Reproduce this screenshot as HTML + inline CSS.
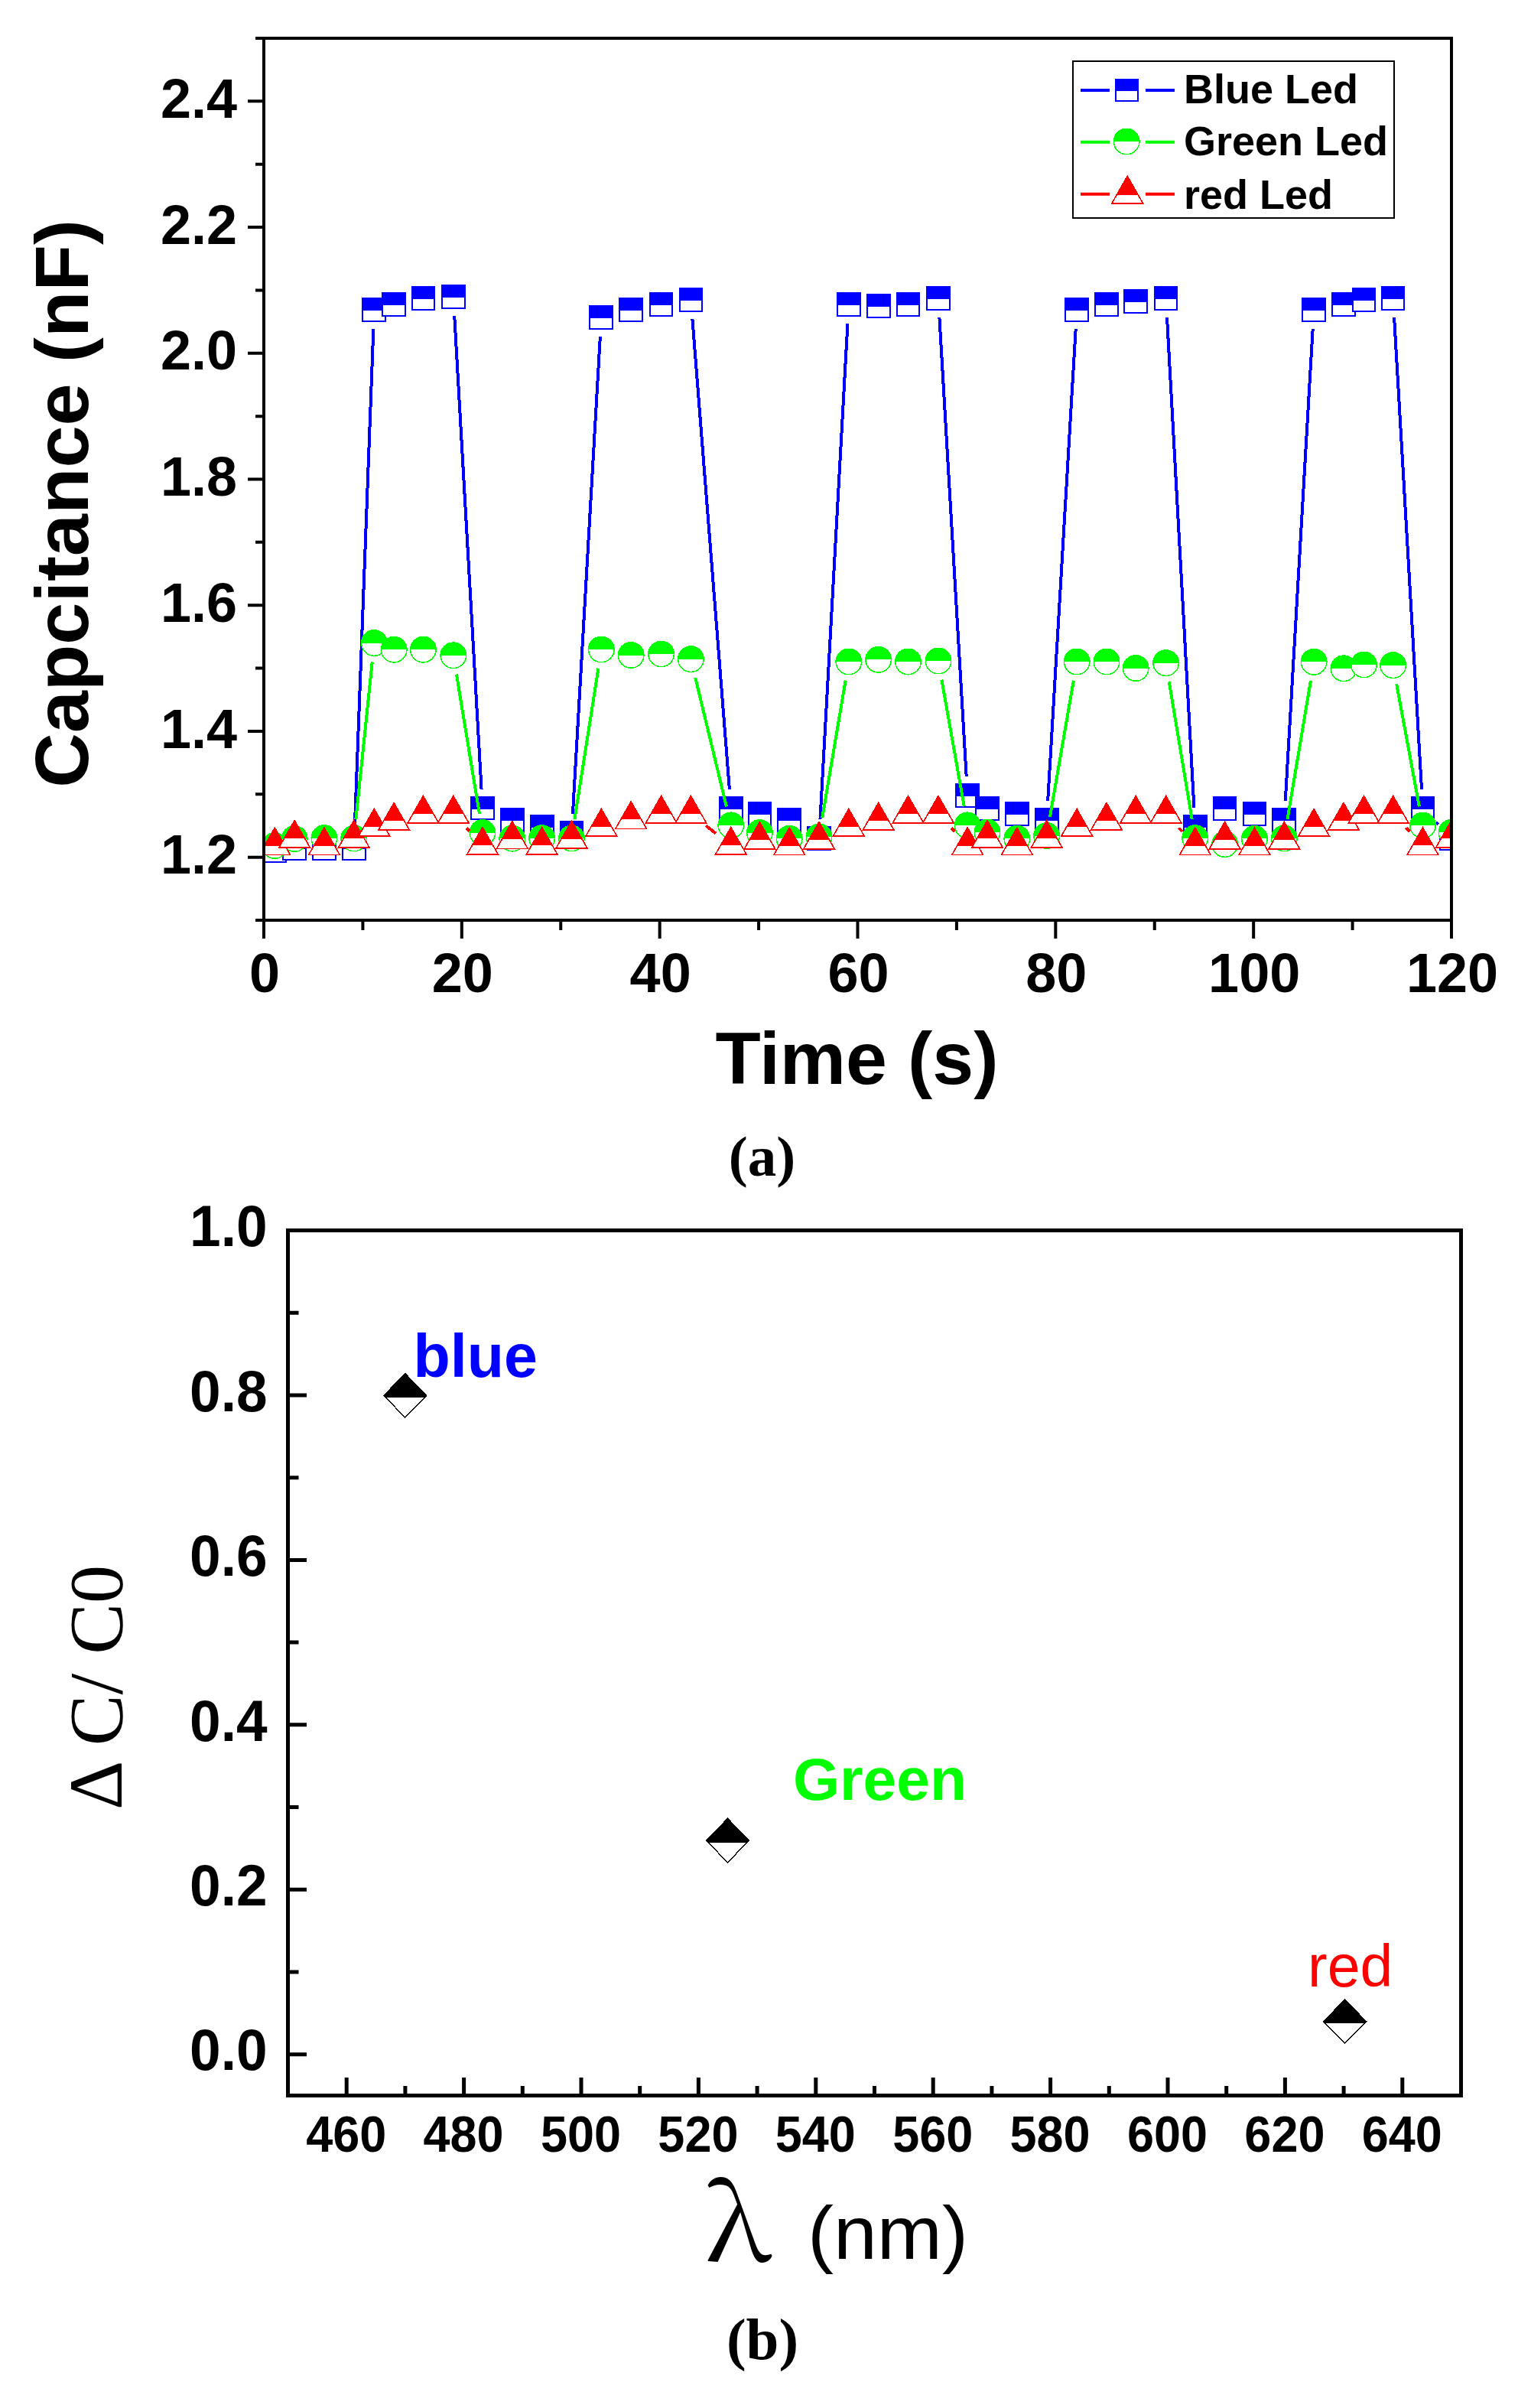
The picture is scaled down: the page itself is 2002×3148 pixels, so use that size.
<!DOCTYPE html><html><head><meta charset="utf-8"><title>Figure</title><style>html,body{margin:0;padding:0;background:#fff;}svg{display:block;}</style></head><body><svg width="2002" height="3148" viewBox="0 0 2002 3148"><rect width="2002" height="3148" fill="#fff"/><defs><clipPath id="ca"><rect x="347" y="52" width="1549" height="1149"/></clipPath><clipPath id="cb"><rect x="379" y="1611" width="1529" height="1126"/></clipPath></defs><g clip-path="url(#ca)" shape-rendering="crispEdges"><path d="M463.71 1083.82L488.36 429.98M594.26 413.26L629.58 1031.64M748.92 1063.84L784.87 439.66M905.4 417.12L953.88 1031.78M1072.42 1071.24L1108.46 422.76M1228.44 415.16L1263.69 1015.04M1370.16 1047.04L1406.68 430.16M1526.01 415.16L1561.43 1056.04M1680.74 1047.04L1716.66 430.16M1823.1 415.16L1859.02 1031.84M1877.83 1074.79L1880.64 1077.71" fill="none" stroke="#0000ff" stroke-width="4.0" stroke-linecap="butt"/><rect x="344.39" y="1097.65" width="29.7" height="29.7" fill="#fff" stroke="#0000ff" stroke-width="2"/><rect x="343.39" y="1096.65" width="31.7" height="16.85" fill="#0000ff"/><rect x="370.27" y="1093.95" width="29.7" height="29.7" fill="#fff" stroke="#0000ff" stroke-width="2"/><rect x="369.27" y="1092.95" width="31.7" height="16.85" fill="#0000ff"/><rect x="409.09" y="1093.95" width="29.7" height="29.7" fill="#fff" stroke="#0000ff" stroke-width="2"/><rect x="408.09" y="1092.95" width="31.7" height="16.85" fill="#0000ff"/><rect x="447.92" y="1093.95" width="29.7" height="29.7" fill="#fff" stroke="#0000ff" stroke-width="2"/><rect x="446.92" y="1092.95" width="31.7" height="16.85" fill="#0000ff"/><rect x="474.45" y="390.15" width="29.7" height="29.7" fill="#fff" stroke="#0000ff" stroke-width="2"/><rect x="473.45" y="389.15" width="31.7" height="16.85" fill="#0000ff"/><rect x="500.33" y="382.95" width="29.7" height="29.7" fill="#fff" stroke="#0000ff" stroke-width="2"/><rect x="499.33" y="381.95" width="31.7" height="16.85" fill="#0000ff"/><rect x="538.51" y="375.05" width="29.7" height="29.7" fill="#fff" stroke="#0000ff" stroke-width="2"/><rect x="537.51" y="374.05" width="31.7" height="16.85" fill="#0000ff"/><rect x="577.98" y="373.45" width="29.7" height="29.7" fill="#fff" stroke="#0000ff" stroke-width="2"/><rect x="576.98" y="372.45" width="31.7" height="16.85" fill="#0000ff"/><rect x="616.16" y="1041.75" width="29.7" height="29.7" fill="#fff" stroke="#0000ff" stroke-width="2"/><rect x="615.16" y="1040.75" width="31.7" height="16.85" fill="#0000ff"/><rect x="654.99" y="1056.95" width="29.7" height="29.7" fill="#fff" stroke="#0000ff" stroke-width="2"/><rect x="653.99" y="1055.95" width="31.7" height="16.85" fill="#0000ff"/><rect x="693.81" y="1065.95" width="29.7" height="29.7" fill="#fff" stroke="#0000ff" stroke-width="2"/><rect x="692.81" y="1064.95" width="31.7" height="16.85" fill="#0000ff"/><rect x="732.64" y="1073.95" width="29.7" height="29.7" fill="#fff" stroke="#0000ff" stroke-width="2"/><rect x="731.64" y="1072.95" width="31.7" height="16.85" fill="#0000ff"/><rect x="771.46" y="399.85" width="29.7" height="29.7" fill="#fff" stroke="#0000ff" stroke-width="2"/><rect x="770.46" y="398.85" width="31.7" height="16.85" fill="#0000ff"/><rect x="810.29" y="390.35" width="29.7" height="29.7" fill="#fff" stroke="#0000ff" stroke-width="2"/><rect x="809.29" y="389.35" width="31.7" height="16.85" fill="#0000ff"/><rect x="849.76" y="382.95" width="29.7" height="29.7" fill="#fff" stroke="#0000ff" stroke-width="2"/><rect x="848.76" y="381.95" width="31.7" height="16.85" fill="#0000ff"/><rect x="888.58" y="377.35" width="29.7" height="29.7" fill="#fff" stroke="#0000ff" stroke-width="2"/><rect x="887.58" y="376.35" width="31.7" height="16.85" fill="#0000ff"/><rect x="941" y="1041.85" width="29.7" height="29.7" fill="#fff" stroke="#0000ff" stroke-width="2"/><rect x="940" y="1040.85" width="31.7" height="16.85" fill="#0000ff"/><rect x="978.53" y="1049.15" width="29.7" height="29.7" fill="#fff" stroke="#0000ff" stroke-width="2"/><rect x="977.53" y="1048.15" width="31.7" height="16.85" fill="#0000ff"/><rect x="1017.35" y="1057.05" width="29.7" height="29.7" fill="#fff" stroke="#0000ff" stroke-width="2"/><rect x="1016.35" y="1056.05" width="31.7" height="16.85" fill="#0000ff"/><rect x="1056.18" y="1081.35" width="29.7" height="29.7" fill="#fff" stroke="#0000ff" stroke-width="2"/><rect x="1055.18" y="1080.35" width="31.7" height="16.85" fill="#0000ff"/><rect x="1095" y="382.95" width="29.7" height="29.7" fill="#fff" stroke="#0000ff" stroke-width="2"/><rect x="1094" y="381.95" width="31.7" height="16.85" fill="#0000ff"/><rect x="1133.83" y="384.85" width="29.7" height="29.7" fill="#fff" stroke="#0000ff" stroke-width="2"/><rect x="1132.83" y="383.85" width="31.7" height="16.85" fill="#0000ff"/><rect x="1172.65" y="382.95" width="29.7" height="29.7" fill="#fff" stroke="#0000ff" stroke-width="2"/><rect x="1171.65" y="381.95" width="31.7" height="16.85" fill="#0000ff"/><rect x="1212.12" y="375.35" width="29.7" height="29.7" fill="#fff" stroke="#0000ff" stroke-width="2"/><rect x="1211.12" y="374.35" width="31.7" height="16.85" fill="#0000ff"/><rect x="1250.3" y="1025.15" width="29.7" height="29.7" fill="#fff" stroke="#0000ff" stroke-width="2"/><rect x="1249.3" y="1024.15" width="31.7" height="16.85" fill="#0000ff"/><rect x="1276.19" y="1041.85" width="29.7" height="29.7" fill="#fff" stroke="#0000ff" stroke-width="2"/><rect x="1275.19" y="1040.85" width="31.7" height="16.85" fill="#0000ff"/><rect x="1315.01" y="1049.15" width="29.7" height="29.7" fill="#fff" stroke="#0000ff" stroke-width="2"/><rect x="1314.01" y="1048.15" width="31.7" height="16.85" fill="#0000ff"/><rect x="1353.84" y="1057.15" width="29.7" height="29.7" fill="#fff" stroke="#0000ff" stroke-width="2"/><rect x="1352.84" y="1056.15" width="31.7" height="16.85" fill="#0000ff"/><rect x="1393.31" y="390.35" width="29.7" height="29.7" fill="#fff" stroke="#0000ff" stroke-width="2"/><rect x="1392.31" y="389.35" width="31.7" height="16.85" fill="#0000ff"/><rect x="1432.13" y="382.95" width="29.7" height="29.7" fill="#fff" stroke="#0000ff" stroke-width="2"/><rect x="1431.13" y="381.95" width="31.7" height="16.85" fill="#0000ff"/><rect x="1470.31" y="379.25" width="29.7" height="29.7" fill="#fff" stroke="#0000ff" stroke-width="2"/><rect x="1469.31" y="378.25" width="31.7" height="16.85" fill="#0000ff"/><rect x="1509.78" y="375.35" width="29.7" height="29.7" fill="#fff" stroke="#0000ff" stroke-width="2"/><rect x="1508.78" y="374.35" width="31.7" height="16.85" fill="#0000ff"/><rect x="1547.96" y="1066.15" width="29.7" height="29.7" fill="#fff" stroke="#0000ff" stroke-width="2"/><rect x="1546.96" y="1065.15" width="31.7" height="16.85" fill="#0000ff"/><rect x="1586.79" y="1041.85" width="29.7" height="29.7" fill="#fff" stroke="#0000ff" stroke-width="2"/><rect x="1585.79" y="1040.85" width="31.7" height="16.85" fill="#0000ff"/><rect x="1625.61" y="1049.15" width="29.7" height="29.7" fill="#fff" stroke="#0000ff" stroke-width="2"/><rect x="1624.61" y="1048.15" width="31.7" height="16.85" fill="#0000ff"/><rect x="1664.44" y="1057.15" width="29.7" height="29.7" fill="#fff" stroke="#0000ff" stroke-width="2"/><rect x="1663.44" y="1056.15" width="31.7" height="16.85" fill="#0000ff"/><rect x="1703.26" y="390.35" width="29.7" height="29.7" fill="#fff" stroke="#0000ff" stroke-width="2"/><rect x="1702.26" y="389.35" width="31.7" height="16.85" fill="#0000ff"/><rect x="1742.09" y="382.95" width="29.7" height="29.7" fill="#fff" stroke="#0000ff" stroke-width="2"/><rect x="1741.09" y="381.95" width="31.7" height="16.85" fill="#0000ff"/><rect x="1768.62" y="377.35" width="29.7" height="29.7" fill="#fff" stroke="#0000ff" stroke-width="2"/><rect x="1767.62" y="376.35" width="31.7" height="16.85" fill="#0000ff"/><rect x="1806.79" y="375.35" width="29.7" height="29.7" fill="#fff" stroke="#0000ff" stroke-width="2"/><rect x="1805.79" y="374.35" width="31.7" height="16.85" fill="#0000ff"/><rect x="1845.62" y="1041.95" width="29.7" height="29.7" fill="#fff" stroke="#0000ff" stroke-width="2"/><rect x="1844.62" y="1040.95" width="31.7" height="16.85" fill="#0000ff"/><rect x="1883.15" y="1080.85" width="29.7" height="29.7" fill="#fff" stroke="#0000ff" stroke-width="2"/><rect x="1882.15" y="1079.85" width="31.7" height="16.85" fill="#0000ff"/><path d="M465.35 1071.13L486.72 865.47M596.9 881.47L626.95 1063.93M751.37 1071.3L782.43 873.7M909.3 886L949.98 1054.6M1075.21 1069.25L1105.67 889.65M1231.35 888.61L1260.78 1054.29M1372.96 1067.87L1403.88 889.63M1528.74 891.36L1558.7 1071.04M1683.44 1071.25L1713.96 889.95M1826.2 894.28L1855.91 1054.42" fill="none" stroke="#00ff00" stroke-width="4.0" stroke-linecap="butt"/><circle cx="359.24" cy="1105.5" r="16.75" fill="#fff" stroke="#00ff00" stroke-width="1.5"/><path d="M341.74 1105.5A17.5 17.5 0 0 1 376.74 1105.5Z" fill="#00ff00"/><circle cx="385.12" cy="1096.5" r="16.75" fill="#fff" stroke="#00ff00" stroke-width="1.5"/><path d="M367.62 1096.5A17.5 17.5 0 0 1 402.62 1096.5Z" fill="#00ff00"/><circle cx="423.94" cy="1095.7" r="16.75" fill="#fff" stroke="#00ff00" stroke-width="1.5"/><path d="M406.44 1095.7A17.5 17.5 0 0 1 441.44 1095.7Z" fill="#00ff00"/><circle cx="462.77" cy="1096" r="16.75" fill="#fff" stroke="#00ff00" stroke-width="1.5"/><path d="M445.27 1096A17.5 17.5 0 0 1 480.27 1096Z" fill="#00ff00"/><circle cx="489.3" cy="840.6" r="16.75" fill="#fff" stroke="#00ff00" stroke-width="1.5"/><path d="M471.8 840.6A17.5 17.5 0 0 1 506.8 840.6Z" fill="#00ff00"/><circle cx="515.18" cy="849.2" r="16.75" fill="#fff" stroke="#00ff00" stroke-width="1.5"/><path d="M497.68 849.2A17.5 17.5 0 0 1 532.68 849.2Z" fill="#00ff00"/><circle cx="553.36" cy="849.2" r="16.75" fill="#fff" stroke="#00ff00" stroke-width="1.5"/><path d="M535.86 849.2A17.5 17.5 0 0 1 570.86 849.2Z" fill="#00ff00"/><circle cx="592.83" cy="856.8" r="16.75" fill="#fff" stroke="#00ff00" stroke-width="1.5"/><path d="M575.33 856.8A17.5 17.5 0 0 1 610.33 856.8Z" fill="#00ff00"/><circle cx="631.01" cy="1088.6" r="16.75" fill="#fff" stroke="#00ff00" stroke-width="1.5"/><path d="M613.51 1088.6A17.5 17.5 0 0 1 648.51 1088.6Z" fill="#00ff00"/><circle cx="669.84" cy="1096.1" r="16.75" fill="#fff" stroke="#00ff00" stroke-width="1.5"/><path d="M652.34 1096.1A17.5 17.5 0 0 1 687.34 1096.1Z" fill="#00ff00"/><circle cx="708.66" cy="1095.7" r="16.75" fill="#fff" stroke="#00ff00" stroke-width="1.5"/><path d="M691.16 1095.7A17.5 17.5 0 0 1 726.16 1095.7Z" fill="#00ff00"/><circle cx="747.49" cy="1096" r="16.75" fill="#fff" stroke="#00ff00" stroke-width="1.5"/><path d="M729.99 1096A17.5 17.5 0 0 1 764.99 1096Z" fill="#00ff00"/><circle cx="786.31" cy="849" r="16.75" fill="#fff" stroke="#00ff00" stroke-width="1.5"/><path d="M768.81 849A17.5 17.5 0 0 1 803.81 849Z" fill="#00ff00"/><circle cx="825.14" cy="856.5" r="16.75" fill="#fff" stroke="#00ff00" stroke-width="1.5"/><path d="M807.64 856.5A17.5 17.5 0 0 1 842.64 856.5Z" fill="#00ff00"/><circle cx="864.61" cy="855" r="16.75" fill="#fff" stroke="#00ff00" stroke-width="1.5"/><path d="M847.11 855A17.5 17.5 0 0 1 882.11 855Z" fill="#00ff00"/><circle cx="903.43" cy="861.7" r="16.75" fill="#fff" stroke="#00ff00" stroke-width="1.5"/><path d="M885.93 861.7A17.5 17.5 0 0 1 920.93 861.7Z" fill="#00ff00"/><circle cx="955.85" cy="1078.9" r="16.75" fill="#fff" stroke="#00ff00" stroke-width="1.5"/><path d="M938.35 1078.9A17.5 17.5 0 0 1 973.35 1078.9Z" fill="#00ff00"/><circle cx="993.38" cy="1088.6" r="16.75" fill="#fff" stroke="#00ff00" stroke-width="1.5"/><path d="M975.88 1088.6A17.5 17.5 0 0 1 1010.88 1088.6Z" fill="#00ff00"/><circle cx="1032.2" cy="1096.3" r="16.75" fill="#fff" stroke="#00ff00" stroke-width="1.5"/><path d="M1014.7 1096.3A17.5 17.5 0 0 1 1049.7 1096.3Z" fill="#00ff00"/><circle cx="1071.03" cy="1093.9" r="16.75" fill="#fff" stroke="#00ff00" stroke-width="1.5"/><path d="M1053.53 1093.9A17.5 17.5 0 0 1 1088.53 1093.9Z" fill="#00ff00"/><circle cx="1109.85" cy="865" r="16.75" fill="#fff" stroke="#00ff00" stroke-width="1.5"/><path d="M1092.35 865A17.5 17.5 0 0 1 1127.35 865Z" fill="#00ff00"/><circle cx="1148.68" cy="862.3" r="16.75" fill="#fff" stroke="#00ff00" stroke-width="1.5"/><path d="M1131.18 862.3A17.5 17.5 0 0 1 1166.18 862.3Z" fill="#00ff00"/><circle cx="1187.5" cy="865" r="16.75" fill="#fff" stroke="#00ff00" stroke-width="1.5"/><path d="M1170 865A17.5 17.5 0 0 1 1205 865Z" fill="#00ff00"/><circle cx="1226.97" cy="864" r="16.75" fill="#fff" stroke="#00ff00" stroke-width="1.5"/><path d="M1209.47 864A17.5 17.5 0 0 1 1244.47 864Z" fill="#00ff00"/><circle cx="1265.15" cy="1078.9" r="16.75" fill="#fff" stroke="#00ff00" stroke-width="1.5"/><path d="M1247.65 1078.9A17.5 17.5 0 0 1 1282.65 1078.9Z" fill="#00ff00"/><circle cx="1291.04" cy="1088" r="16.75" fill="#fff" stroke="#00ff00" stroke-width="1.5"/><path d="M1273.54 1088A17.5 17.5 0 0 1 1308.54 1088Z" fill="#00ff00"/><circle cx="1329.86" cy="1096.3" r="16.75" fill="#fff" stroke="#00ff00" stroke-width="1.5"/><path d="M1312.36 1096.3A17.5 17.5 0 0 1 1347.36 1096.3Z" fill="#00ff00"/><circle cx="1368.69" cy="1092.5" r="16.75" fill="#fff" stroke="#00ff00" stroke-width="1.5"/><path d="M1351.19 1092.5A17.5 17.5 0 0 1 1386.19 1092.5Z" fill="#00ff00"/><circle cx="1408.16" cy="865" r="16.75" fill="#fff" stroke="#00ff00" stroke-width="1.5"/><path d="M1390.66 865A17.5 17.5 0 0 1 1425.66 865Z" fill="#00ff00"/><circle cx="1446.98" cy="865" r="16.75" fill="#fff" stroke="#00ff00" stroke-width="1.5"/><path d="M1429.48 865A17.5 17.5 0 0 1 1464.48 865Z" fill="#00ff00"/><circle cx="1485.16" cy="873.5" r="16.75" fill="#fff" stroke="#00ff00" stroke-width="1.5"/><path d="M1467.66 873.5A17.5 17.5 0 0 1 1502.66 873.5Z" fill="#00ff00"/><circle cx="1524.63" cy="866.7" r="16.75" fill="#fff" stroke="#00ff00" stroke-width="1.5"/><path d="M1507.13 866.7A17.5 17.5 0 0 1 1542.13 866.7Z" fill="#00ff00"/><circle cx="1562.81" cy="1095.7" r="16.75" fill="#fff" stroke="#00ff00" stroke-width="1.5"/><path d="M1545.31 1095.7A17.5 17.5 0 0 1 1580.31 1095.7Z" fill="#00ff00"/><circle cx="1601.64" cy="1103.6" r="16.75" fill="#fff" stroke="#00ff00" stroke-width="1.5"/><path d="M1584.14 1103.6A17.5 17.5 0 0 1 1619.14 1103.6Z" fill="#00ff00"/><circle cx="1640.46" cy="1096.3" r="16.75" fill="#fff" stroke="#00ff00" stroke-width="1.5"/><path d="M1622.96 1096.3A17.5 17.5 0 0 1 1657.96 1096.3Z" fill="#00ff00"/><circle cx="1679.29" cy="1095.9" r="16.75" fill="#fff" stroke="#00ff00" stroke-width="1.5"/><path d="M1661.79 1095.9A17.5 17.5 0 0 1 1696.79 1095.9Z" fill="#00ff00"/><circle cx="1718.11" cy="865.3" r="16.75" fill="#fff" stroke="#00ff00" stroke-width="1.5"/><path d="M1700.61 865.3A17.5 17.5 0 0 1 1735.61 865.3Z" fill="#00ff00"/><circle cx="1756.94" cy="873.8" r="16.75" fill="#fff" stroke="#00ff00" stroke-width="1.5"/><path d="M1739.44 873.8A17.5 17.5 0 0 1 1774.44 873.8Z" fill="#00ff00"/><circle cx="1783.47" cy="869" r="16.75" fill="#fff" stroke="#00ff00" stroke-width="1.5"/><path d="M1765.97 869A17.5 17.5 0 0 1 1800.97 869Z" fill="#00ff00"/><circle cx="1821.64" cy="869.7" r="16.75" fill="#fff" stroke="#00ff00" stroke-width="1.5"/><path d="M1804.14 869.7A17.5 17.5 0 0 1 1839.14 869.7Z" fill="#00ff00"/><circle cx="1860.47" cy="1079" r="16.75" fill="#fff" stroke="#00ff00" stroke-width="1.5"/><path d="M1842.97 1079A17.5 17.5 0 0 1 1877.97 1079Z" fill="#00ff00"/><circle cx="1898" cy="1088.3" r="16.75" fill="#fff" stroke="#00ff00" stroke-width="1.5"/><path d="M1880.5 1088.3A17.5 17.5 0 0 1 1915.5 1088.3Z" fill="#00ff00"/><path d="M609.87 1082.3L613.97 1086.7M923.12 1079.4L936.16 1089.6M1243.9 1082.4L1248.23 1087.1M1541.56 1082.4L1545.88 1087.1M1838.75 1082.24L1843.37 1087.16" fill="none" stroke="#ff0000" stroke-width="4.0" stroke-linecap="butt"/><path d="M359.24 1082.1L379.54 1117.6L338.94 1117.6Z" fill="#fff" stroke="#ff0000" stroke-width="1.6" stroke-linejoin="miter"/><path d="M359.24 1080.6L373.38 1105.6L345.09 1105.6Z" fill="#ff0000"/><path d="M385.12 1072.6L405.42 1108.1L364.82 1108.1Z" fill="#fff" stroke="#ff0000" stroke-width="1.6" stroke-linejoin="miter"/><path d="M385.12 1071.1L399.26 1096.1L370.97 1096.1Z" fill="#ff0000"/><path d="M423.94 1082.1L444.24 1117.6L403.64 1117.6Z" fill="#fff" stroke="#ff0000" stroke-width="1.6" stroke-linejoin="miter"/><path d="M423.94 1080.6L438.09 1105.6L409.8 1105.6Z" fill="#ff0000"/><path d="M462.77 1072.6L483.07 1108.1L442.47 1108.1Z" fill="#fff" stroke="#ff0000" stroke-width="1.6" stroke-linejoin="miter"/><path d="M462.77 1071.1L476.91 1096.1L448.62 1096.1Z" fill="#ff0000"/><path d="M489.3 1057.4L509.6 1092.9L469 1092.9Z" fill="#fff" stroke="#ff0000" stroke-width="1.6" stroke-linejoin="miter"/><path d="M489.3 1055.9L503.44 1080.9L475.15 1080.9Z" fill="#ff0000"/><path d="M515.18 1049.7L535.48 1085.2L494.88 1085.2Z" fill="#fff" stroke="#ff0000" stroke-width="1.6" stroke-linejoin="miter"/><path d="M515.18 1048.2L529.33 1073.2L501.04 1073.2Z" fill="#ff0000"/><path d="M553.36 1040.5L573.66 1076L533.06 1076Z" fill="#fff" stroke="#ff0000" stroke-width="1.6" stroke-linejoin="miter"/><path d="M553.36 1039L567.51 1064L539.22 1064Z" fill="#ff0000"/><path d="M592.83 1040.5L613.13 1076L572.53 1076Z" fill="#fff" stroke="#ff0000" stroke-width="1.6" stroke-linejoin="miter"/><path d="M592.83 1039L606.98 1064L578.69 1064Z" fill="#ff0000"/><path d="M631.01 1081.5L651.31 1117L610.71 1117Z" fill="#fff" stroke="#ff0000" stroke-width="1.6" stroke-linejoin="miter"/><path d="M631.01 1080L645.16 1105L616.87 1105Z" fill="#ff0000"/><path d="M669.84 1073.8L690.14 1109.3L649.54 1109.3Z" fill="#fff" stroke="#ff0000" stroke-width="1.6" stroke-linejoin="miter"/><path d="M669.84 1072.3L683.98 1097.3L655.69 1097.3Z" fill="#ff0000"/><path d="M708.66 1081.5L728.96 1117L688.36 1117Z" fill="#fff" stroke="#ff0000" stroke-width="1.6" stroke-linejoin="miter"/><path d="M708.66 1080L722.81 1105L694.52 1105Z" fill="#ff0000"/><path d="M747.49 1073.2L767.79 1108.7L727.19 1108.7Z" fill="#fff" stroke="#ff0000" stroke-width="1.6" stroke-linejoin="miter"/><path d="M747.49 1071.7L761.63 1096.7L733.34 1096.7Z" fill="#ff0000"/><path d="M786.31 1057.5L806.61 1093L766.01 1093Z" fill="#fff" stroke="#ff0000" stroke-width="1.6" stroke-linejoin="miter"/><path d="M786.31 1056L800.46 1081L772.17 1081Z" fill="#ff0000"/><path d="M825.14 1047.9L845.44 1083.4L804.84 1083.4Z" fill="#fff" stroke="#ff0000" stroke-width="1.6" stroke-linejoin="miter"/><path d="M825.14 1046.4L839.28 1071.4L810.99 1071.4Z" fill="#ff0000"/><path d="M864.61 1040.5L884.91 1076L844.31 1076Z" fill="#fff" stroke="#ff0000" stroke-width="1.6" stroke-linejoin="miter"/><path d="M864.61 1039L878.75 1064L850.46 1064Z" fill="#ff0000"/><path d="M903.43 1040.5L923.73 1076L883.13 1076Z" fill="#fff" stroke="#ff0000" stroke-width="1.6" stroke-linejoin="miter"/><path d="M903.43 1039L917.58 1064L889.29 1064Z" fill="#ff0000"/><path d="M955.85 1081.5L976.15 1117L935.55 1117Z" fill="#fff" stroke="#ff0000" stroke-width="1.6" stroke-linejoin="miter"/><path d="M955.85 1080L969.99 1105L941.7 1105Z" fill="#ff0000"/><path d="M993.38 1074.4L1013.68 1109.9L973.08 1109.9Z" fill="#fff" stroke="#ff0000" stroke-width="1.6" stroke-linejoin="miter"/><path d="M993.38 1072.9L1007.52 1097.9L979.23 1097.9Z" fill="#ff0000"/><path d="M1032.2 1082L1052.5 1117.5L1011.9 1117.5Z" fill="#fff" stroke="#ff0000" stroke-width="1.6" stroke-linejoin="miter"/><path d="M1032.2 1080.5L1046.35 1105.5L1018.06 1105.5Z" fill="#ff0000"/><path d="M1071.03 1074.4L1091.33 1109.9L1050.73 1109.9Z" fill="#fff" stroke="#ff0000" stroke-width="1.6" stroke-linejoin="miter"/><path d="M1071.03 1072.9L1085.17 1097.9L1056.88 1097.9Z" fill="#ff0000"/><path d="M1109.85 1057.5L1130.15 1093L1089.55 1093Z" fill="#fff" stroke="#ff0000" stroke-width="1.6" stroke-linejoin="miter"/><path d="M1109.85 1056L1124 1081L1095.71 1081Z" fill="#ff0000"/><path d="M1148.68 1049.5L1168.98 1085L1128.38 1085Z" fill="#fff" stroke="#ff0000" stroke-width="1.6" stroke-linejoin="miter"/><path d="M1148.68 1048L1162.82 1073L1134.53 1073Z" fill="#ff0000"/><path d="M1187.5 1040.5L1207.8 1076L1167.2 1076Z" fill="#fff" stroke="#ff0000" stroke-width="1.6" stroke-linejoin="miter"/><path d="M1187.5 1039L1201.65 1064L1173.36 1064Z" fill="#ff0000"/><path d="M1226.97 1040.5L1247.27 1076L1206.67 1076Z" fill="#fff" stroke="#ff0000" stroke-width="1.6" stroke-linejoin="miter"/><path d="M1226.97 1039L1241.12 1064L1212.83 1064Z" fill="#ff0000"/><path d="M1265.15 1082L1285.45 1117.5L1244.85 1117.5Z" fill="#fff" stroke="#ff0000" stroke-width="1.6" stroke-linejoin="miter"/><path d="M1265.15 1080.5L1279.3 1105.5L1251.01 1105.5Z" fill="#ff0000"/><path d="M1291.04 1072.6L1311.34 1108.1L1270.74 1108.1Z" fill="#fff" stroke="#ff0000" stroke-width="1.6" stroke-linejoin="miter"/><path d="M1291.04 1071.1L1305.18 1096.1L1276.89 1096.1Z" fill="#ff0000"/><path d="M1329.86 1082L1350.16 1117.5L1309.56 1117.5Z" fill="#fff" stroke="#ff0000" stroke-width="1.6" stroke-linejoin="miter"/><path d="M1329.86 1080.5L1344.01 1105.5L1315.72 1105.5Z" fill="#ff0000"/><path d="M1368.69 1072.6L1388.99 1108.1L1348.39 1108.1Z" fill="#fff" stroke="#ff0000" stroke-width="1.6" stroke-linejoin="miter"/><path d="M1368.69 1071.1L1382.83 1096.1L1354.54 1096.1Z" fill="#ff0000"/><path d="M1408.16 1057.5L1428.46 1093L1387.86 1093Z" fill="#fff" stroke="#ff0000" stroke-width="1.6" stroke-linejoin="miter"/><path d="M1408.16 1056L1422.3 1081L1394.01 1081Z" fill="#ff0000"/><path d="M1446.98 1049.5L1467.28 1085L1426.68 1085Z" fill="#fff" stroke="#ff0000" stroke-width="1.6" stroke-linejoin="miter"/><path d="M1446.98 1048L1461.13 1073L1432.84 1073Z" fill="#ff0000"/><path d="M1485.16 1040.5L1505.46 1076L1464.86 1076Z" fill="#fff" stroke="#ff0000" stroke-width="1.6" stroke-linejoin="miter"/><path d="M1485.16 1039L1499.31 1064L1471.02 1064Z" fill="#ff0000"/><path d="M1524.63 1040.5L1544.93 1076L1504.33 1076Z" fill="#fff" stroke="#ff0000" stroke-width="1.6" stroke-linejoin="miter"/><path d="M1524.63 1039L1538.78 1064L1510.49 1064Z" fill="#ff0000"/><path d="M1562.81 1082L1583.11 1117.5L1542.51 1117.5Z" fill="#fff" stroke="#ff0000" stroke-width="1.6" stroke-linejoin="miter"/><path d="M1562.81 1080.5L1576.96 1105.5L1548.67 1105.5Z" fill="#ff0000"/><path d="M1601.64 1074.4L1621.94 1109.9L1581.34 1109.9Z" fill="#fff" stroke="#ff0000" stroke-width="1.6" stroke-linejoin="miter"/><path d="M1601.64 1072.9L1615.78 1097.9L1587.49 1097.9Z" fill="#ff0000"/><path d="M1640.46 1082L1660.76 1117.5L1620.16 1117.5Z" fill="#fff" stroke="#ff0000" stroke-width="1.6" stroke-linejoin="miter"/><path d="M1640.46 1080.5L1654.61 1105.5L1626.32 1105.5Z" fill="#ff0000"/><path d="M1679.29 1074.4L1699.59 1109.9L1658.99 1109.9Z" fill="#fff" stroke="#ff0000" stroke-width="1.6" stroke-linejoin="miter"/><path d="M1679.29 1072.9L1693.43 1097.9L1665.14 1097.9Z" fill="#ff0000"/><path d="M1718.11 1057.5L1738.41 1093L1697.81 1093Z" fill="#fff" stroke="#ff0000" stroke-width="1.6" stroke-linejoin="miter"/><path d="M1718.11 1056L1732.26 1081L1703.97 1081Z" fill="#ff0000"/><path d="M1756.94 1049.5L1777.24 1085L1736.64 1085Z" fill="#fff" stroke="#ff0000" stroke-width="1.6" stroke-linejoin="miter"/><path d="M1756.94 1048L1771.08 1073L1742.79 1073Z" fill="#ff0000"/><path d="M1783.47 1040.5L1803.77 1076L1763.17 1076Z" fill="#fff" stroke="#ff0000" stroke-width="1.6" stroke-linejoin="miter"/><path d="M1783.47 1039L1797.61 1064L1769.32 1064Z" fill="#ff0000"/><path d="M1821.64 1040.5L1841.94 1076L1801.34 1076Z" fill="#fff" stroke="#ff0000" stroke-width="1.6" stroke-linejoin="miter"/><path d="M1821.64 1039L1835.79 1064L1807.5 1064Z" fill="#ff0000"/><path d="M1860.47 1081.9L1880.77 1117.4L1840.17 1117.4Z" fill="#fff" stroke="#ff0000" stroke-width="1.6" stroke-linejoin="miter"/><path d="M1860.47 1080.4L1874.61 1105.4L1846.32 1105.4Z" fill="#ff0000"/><path d="M1898 1072.5L1918.3 1108L1877.7 1108Z" fill="#fff" stroke="#ff0000" stroke-width="1.6" stroke-linejoin="miter"/><path d="M1898 1071L1912.14 1096L1883.86 1096Z" fill="#ff0000"/></g><g stroke="#000" stroke-width="4" fill="none" stroke-linecap="butt"><rect x="345" y="50" width="1553" height="1153"/><path d="M334 1203H345M324 1120.64H345M334 1038.29H345M324 955.93H345M334 873.57H345M324 791.21H345M334 708.86H345M324 626.5H345M334 544.14H345M324 461.79H345M334 379.43H345M324 297.07H345M334 214.71H345M324 132.36H345M334 50H345M345 1203V1227M474.42 1203V1216M603.83 1203V1227M733.25 1203V1216M862.67 1203V1227M992.08 1203V1216M1121.5 1203V1227M1250.92 1203V1216M1380.33 1203V1227M1509.75 1203V1216M1639.17 1203V1227M1768.58 1203V1216M1898 1203V1227"/></g><g font-family="Liberation Sans, sans-serif" font-weight="bold" font-size="72" fill="#000"><text x="310" y="1142.34" text-anchor="end">1.2</text><text x="310" y="977.63" text-anchor="end">1.4</text><text x="310" y="812.91" text-anchor="end">1.6</text><text x="310" y="648.2" text-anchor="end">1.8</text><text x="310" y="483.49" text-anchor="end">2.0</text><text x="310" y="318.77" text-anchor="end">2.2</text><text x="310" y="154.06" text-anchor="end">2.4</text><text x="346" y="1296.5" text-anchor="middle">0</text><text x="604.83" y="1296.5" text-anchor="middle">20</text><text x="863.67" y="1296.5" text-anchor="middle">40</text><text x="1122.5" y="1296.5" text-anchor="middle">60</text><text x="1381.33" y="1296.5" text-anchor="middle">80</text><text x="1640.17" y="1296.5" text-anchor="middle">100</text><text x="1899" y="1296.5" text-anchor="middle">120</text></g><text transform="translate(114.6 658.4) rotate(-90)" text-anchor="middle" font-family="Liberation Sans, sans-serif" font-weight="bold" font-size="99">Capcitance (nF)</text><text x="1120.5" y="1417" text-anchor="middle" font-family="Liberation Sans, sans-serif" font-weight="bold" font-size="97">Time (s)</text><rect x="1402.5" y="79.5" width="420.5" height="205.5" fill="#fff" stroke="#000" stroke-width="2" shape-rendering="crispEdges"/><path d="M1413 118H1451M1498 118H1536" stroke="#0000ff" stroke-width="4" fill="none"/><g shape-rendering="crispEdges"><rect x="1459.05" y="103.75" width="28.5" height="28.5" fill="#fff" stroke="#0000ff" stroke-width="2"/><rect x="1458.05" y="102.75" width="30.5" height="16.25" fill="#0000ff"/></g><text x="1548" y="135.2" font-family="Liberation Sans, sans-serif" font-weight="bold" font-size="54" fill="#000">Blue Led</text><path d="M1413 185.8H1451M1498 185.8H1536" stroke="#00ff00" stroke-width="4" fill="none"/><g shape-rendering="crispEdges"><circle cx="1473.2" cy="185" r="16.75" fill="#fff" stroke="#00ff00" stroke-width="1.5"/><path d="M1455.7 185A17.5 17.5 0 0 1 1490.7 185Z" fill="#00ff00"/></g><text x="1548" y="202.8" font-family="Liberation Sans, sans-serif" font-weight="bold" font-size="54" fill="#000">Green Led</text><path d="M1413 253.8H1451M1498 253.8H1536" stroke="#ff0000" stroke-width="4" fill="none"/><g shape-rendering="crispEdges"><path d="M1474.2 230.3L1494.6 266L1453.8 266Z" fill="#fff" stroke="#ff0000" stroke-width="1.6" stroke-linejoin="miter"/><path d="M1474.2 228.8L1488.9 254.8L1459.5 254.8Z" fill="#ff0000"/></g><text x="1548" y="272.5" font-family="Liberation Sans, sans-serif" font-weight="bold" font-size="54" fill="#000">red Led</text><text x="996.4" y="1537" text-anchor="middle" font-family="Liberation Serif, serif" font-weight="bold" font-size="75">(a)</text><g stroke="#000" stroke-width="5" fill="none" stroke-linecap="butt"><rect x="376.5" y="1608.5" width="1534" height="1131"/><path d="M376.5 2685.7H401M376.5 2577.98H390.5M376.5 2470.26H401M376.5 2362.54H390.5M376.5 2254.82H401M376.5 2147.1H390.5M376.5 2039.38H401M376.5 1931.66H390.5M376.5 1823.94H401M376.5 1716.22H390.5M453.2 2739.5V2716M529.9 2739.5V2727M606.6 2739.5V2716M683.3 2739.5V2727M760 2739.5V2716M836.7 2739.5V2727M913.4 2739.5V2716M990.1 2739.5V2727M1066.8 2739.5V2716M1143.5 2739.5V2727M1220.2 2739.5V2716M1296.9 2739.5V2727M1373.6 2739.5V2716M1450.3 2739.5V2727M1527 2739.5V2716M1603.7 2739.5V2727M1680.4 2739.5V2716M1757.1 2739.5V2727M1833.8 2739.5V2716"/></g><g font-family="Liberation Sans, sans-serif" font-weight="bold" font-size="73" fill="#000"><text transform="translate(349.5 2706.4) scale(1 1.05)" text-anchor="end">0.0</text><text transform="translate(349.5 2490.96) scale(1 1.05)" text-anchor="end">0.2</text><text transform="translate(349.5 2275.52) scale(1 1.05)" text-anchor="end">0.4</text><text transform="translate(349.5 2060.08) scale(1 1.05)" text-anchor="end">0.6</text><text transform="translate(349.5 1844.64) scale(1 1.05)" text-anchor="end">0.8</text><text transform="translate(349.5 1629.2) scale(1 1.05)" text-anchor="end">1.0</text></g><g font-family="Liberation Sans, sans-serif" font-weight="bold" font-size="63" fill="#000"><text transform="translate(452.7 2812.5) scale(1 1.065)" text-anchor="middle">460</text><text transform="translate(606.1 2812.5) scale(1 1.065)" text-anchor="middle">480</text><text transform="translate(759.5 2812.5) scale(1 1.065)" text-anchor="middle">500</text><text transform="translate(912.9 2812.5) scale(1 1.065)" text-anchor="middle">520</text><text transform="translate(1066.3 2812.5) scale(1 1.065)" text-anchor="middle">540</text><text transform="translate(1219.7 2812.5) scale(1 1.065)" text-anchor="middle">560</text><text transform="translate(1373.1 2812.5) scale(1 1.065)" text-anchor="middle">580</text><text transform="translate(1526.5 2812.5) scale(1 1.065)" text-anchor="middle">600</text><text transform="translate(1679.9 2812.5) scale(1 1.065)" text-anchor="middle">620</text><text transform="translate(1833.3 2812.5) scale(1 1.065)" text-anchor="middle">640</text></g><g shape-rendering="crispEdges"><path d="M501.9 1824.5L529.7 1853L557.5 1824.5Z" fill="#fff" stroke="#000" stroke-width="1.4"/><path d="M500.9 1824.5L529.7 1794.5L558.5 1824.5L556.25 1826.8L503.15 1826.8Z" fill="#000"/><path d="M923.7 2406.3L951.5 2434.8L979.3 2406.3Z" fill="#fff" stroke="#000" stroke-width="1.4"/><path d="M922.7 2406.3L951.5 2376.3L980.3 2406.3L978.05 2408.6L924.95 2408.6Z" fill="#000"/><path d="M1730.8 2642.8L1758.6 2671.3L1786.4 2642.8Z" fill="#fff" stroke="#000" stroke-width="1.4"/><path d="M1729.8 2642.8L1758.6 2612.8L1787.4 2642.8L1785.15 2645.1L1732.05 2645.1Z" fill="#000"/></g><text x="540.5" y="1800" font-family="Liberation Sans, sans-serif" font-weight="bold" font-size="79" fill="#0000ff">blue</text><text x="1037" y="2353.2" font-family="Liberation Sans, sans-serif" font-weight="bold" font-size="78.5" fill="#00ff00">Green</text><text x="1710" y="2596.7" font-family="Liberation Sans, sans-serif" font-size="77" fill="#ff0000">red</text><text transform="translate(159.1 2206) rotate(-90)" text-anchor="middle" font-family="Liberation Serif, serif" font-size="100">Δ C/ C0</text><text transform="translate(922 2955.6) scale(1.09 1)" font-family="Noto Serif CJK SC, DejaVu Serif, serif" font-size="137">λ</text><text transform="translate(1056 2953.3) scale(1.022 0.985)" font-family="Liberation Sans, sans-serif" font-size="100">(nm)</text><text x="997" y="3084.2" text-anchor="middle" font-family="Liberation Serif, serif" font-weight="bold" font-size="77">(b)</text></svg></body></html>
